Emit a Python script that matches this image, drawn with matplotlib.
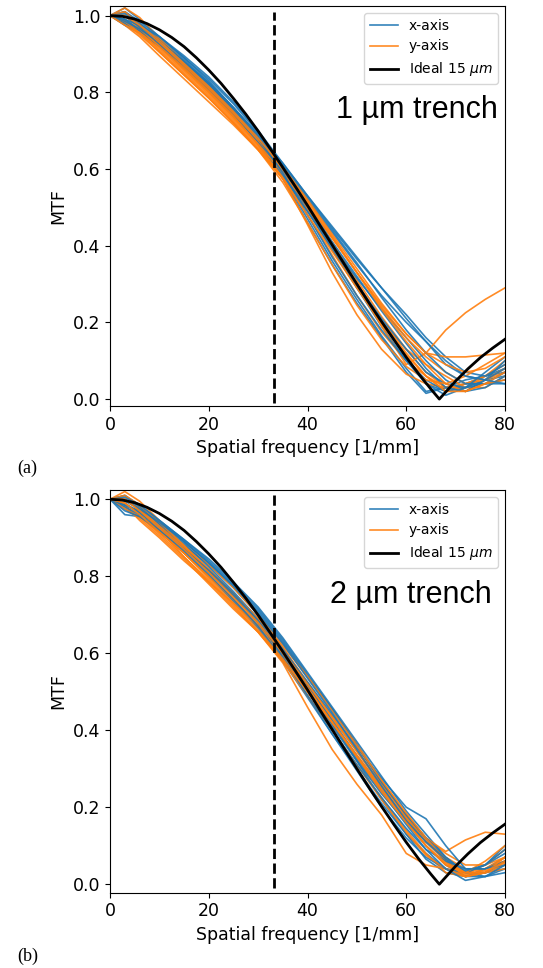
import numpy as np
import matplotlib
matplotlib.use('Agg')
import matplotlib.pyplot as plt

# spatial frequency samples [1/mm] for the measured curves
f = [0, 3, 6, 10, 15, 20, 25, 30, 35, 40, 45, 50, 55, 60, 64, 68, 72, 76, 80]

# ideal 15 um pixel
f_id = [0, 2.5, 5, 7.5, 10, 12.5, 15, 17.5, 20, 22.5, 25, 27.5, 30, 32.5, 35, 37.5, 40,
        42.5, 45, 47.5, 50, 52.5, 55, 57.5, 60, 62.5, 65, 66.7, 70, 72.5, 75, 77.5, 80]
mtf_id = [1.0, 0.998, 0.991, 0.979, 0.963, 0.943, 0.919, 0.890, 0.858, 0.823, 0.784, 0.743,
          0.699, 0.652, 0.604, 0.555, 0.505, 0.453, 0.402, 0.351, 0.300, 0.250, 0.202, 0.155,
          0.109, 0.066, 0.026, 0.0, 0.047, 0.079, 0.108, 0.133, 0.156]

f_nyq = 33.3

# (a) 1 um trench
a_x = [
    [1.0, 1.01, 0.975, 0.935, 0.875, 0.815, 0.75, 0.68, 0.60, 0.50, 0.40, 0.30, 0.20, 0.11, 0.04, 0.02, 0.04, 0.06, 0.08],
    [1.0, 0.985, 0.96, 0.925, 0.87, 0.81, 0.745, 0.67, 0.58, 0.47, 0.36, 0.26, 0.165, 0.08, 0.02, 0.03, 0.05, 0.06, 0.07],
    [1.0, 1.02, 0.99, 0.945, 0.89, 0.83, 0.76, 0.685, 0.605, 0.52, 0.435, 0.35, 0.27, 0.20, 0.15, 0.10, 0.06, 0.05, 0.06],
    [1.0, 0.975, 0.955, 0.92, 0.865, 0.805, 0.74, 0.665, 0.575, 0.46, 0.35, 0.25, 0.16, 0.07, 0.015, 0.03, 0.04, 0.04, 0.05],
    [1.0, 1.0, 0.98, 0.94, 0.885, 0.825, 0.76, 0.69, 0.615, 0.53, 0.445, 0.365, 0.29, 0.22, 0.16, 0.11, 0.07, 0.06, 0.09],
    [1.0, 0.99, 0.965, 0.93, 0.875, 0.815, 0.75, 0.675, 0.59, 0.49, 0.39, 0.29, 0.19, 0.10, 0.05, 0.02, 0.03, 0.05, 0.10],
    [1.0, 1.01, 0.985, 0.945, 0.89, 0.835, 0.77, 0.695, 0.60, 0.495, 0.395, 0.30, 0.21, 0.13, 0.07, 0.04, 0.03, 0.04, 0.04],
    [1.0, 0.98, 0.96, 0.925, 0.87, 0.81, 0.745, 0.67, 0.585, 0.49, 0.40, 0.315, 0.235, 0.16, 0.10, 0.05, 0.02, 0.03, 0.06],
    [1.0, 1.0, 0.97, 0.935, 0.88, 0.82, 0.755, 0.685, 0.60, 0.505, 0.41, 0.32, 0.23, 0.145, 0.08, 0.03, 0.02, 0.05, 0.08],
    [1.0, 0.985, 0.965, 0.93, 0.88, 0.825, 0.76, 0.69, 0.61, 0.525, 0.44, 0.355, 0.265, 0.18, 0.12, 0.07, 0.04, 0.04, 0.07],
    [1.0, 1.005, 0.975, 0.935, 0.88, 0.82, 0.755, 0.68, 0.59, 0.48, 0.37, 0.27, 0.18, 0.10, 0.04, 0.01, 0.03, 0.07, 0.11],
    [1.0, 0.99, 0.975, 0.945, 0.895, 0.84, 0.775, 0.70, 0.615, 0.53, 0.45, 0.37, 0.29, 0.21, 0.15, 0.09, 0.06, 0.05, 0.04],
]
a_y = [
    [1.0, 0.985, 0.96, 0.92, 0.86, 0.80, 0.735, 0.665, 0.59, 0.50, 0.40, 0.30, 0.205, 0.12, 0.06, 0.02, 0.03, 0.06, 0.09],
    [1.0, 1.01, 0.98, 0.93, 0.87, 0.81, 0.745, 0.675, 0.595, 0.505, 0.41, 0.31, 0.215, 0.13, 0.07, 0.03, 0.02, 0.05, 0.08],
    [1.0, 0.975, 0.945, 0.895, 0.835, 0.775, 0.715, 0.65, 0.575, 0.48, 0.375, 0.27, 0.175, 0.10, 0.06, 0.03, 0.03, 0.05, 0.07],
    [1.0, 1.0, 0.97, 0.925, 0.865, 0.805, 0.74, 0.665, 0.575, 0.455, 0.33, 0.22, 0.13, 0.065, 0.04, 0.03, 0.04, 0.06, 0.10],
    [1.0, 0.99, 0.96, 0.91, 0.85, 0.79, 0.725, 0.655, 0.58, 0.49, 0.39, 0.29, 0.20, 0.13, 0.09, 0.06, 0.03, 0.03, 0.06],
    [1.0, 1.02, 0.995, 0.94, 0.88, 0.82, 0.755, 0.685, 0.60, 0.51, 0.42, 0.33, 0.245, 0.17, 0.12, 0.11, 0.11, 0.115, 0.12],
    [1.0, 0.98, 0.95, 0.905, 0.845, 0.785, 0.72, 0.65, 0.575, 0.495, 0.40, 0.30, 0.19, 0.09, 0.12, 0.18, 0.225, 0.26, 0.29],
    [1.0, 1.0, 0.965, 0.92, 0.86, 0.80, 0.735, 0.665, 0.59, 0.505, 0.42, 0.33, 0.24, 0.16, 0.11, 0.07, 0.04, 0.05, 0.08],
    [1.0, 0.985, 0.955, 0.905, 0.845, 0.785, 0.72, 0.65, 0.565, 0.46, 0.35, 0.245, 0.155, 0.085, 0.05, 0.04, 0.06, 0.09, 0.12],
    [1.0, 1.01, 0.975, 0.93, 0.87, 0.81, 0.745, 0.675, 0.60, 0.515, 0.425, 0.33, 0.235, 0.15, 0.09, 0.04, 0.02, 0.04, 0.07],
    [1.0, 0.975, 0.955, 0.915, 0.855, 0.795, 0.73, 0.66, 0.575, 0.48, 0.385, 0.29, 0.195, 0.115, 0.06, 0.02, 0.02, 0.04, 0.05],
    [1.0, 1.0, 0.975, 0.935, 0.875, 0.815, 0.75, 0.68, 0.605, 0.52, 0.43, 0.34, 0.25, 0.17, 0.12, 0.09, 0.07, 0.08, 0.11],
]

# (b) 2 um trench
b_x = [
    [1.0, 0.99, 0.965, 0.93, 0.88, 0.83, 0.77, 0.70, 0.615, 0.52, 0.42, 0.32, 0.22, 0.13, 0.065, 0.03, 0.02, 0.03, 0.05],
    [1.0, 0.96, 0.955, 0.925, 0.87, 0.81, 0.75, 0.68, 0.595, 0.50, 0.41, 0.32, 0.235, 0.16, 0.10, 0.05, 0.02, 0.04, 0.07],
    [1.0, 1.01, 0.985, 0.945, 0.895, 0.845, 0.785, 0.72, 0.64, 0.55, 0.46, 0.37, 0.28, 0.19, 0.13, 0.07, 0.03, 0.03, 0.04],
    [1.0, 0.975, 0.955, 0.915, 0.86, 0.80, 0.735, 0.665, 0.58, 0.485, 0.39, 0.30, 0.21, 0.13, 0.08, 0.04, 0.02, 0.02, 0.03],
    [1.0, 1.0, 0.98, 0.94, 0.89, 0.835, 0.775, 0.71, 0.63, 0.54, 0.455, 0.36, 0.265, 0.175, 0.11, 0.06, 0.03, 0.05, 0.08],
    [1.0, 0.985, 0.97, 0.93, 0.875, 0.815, 0.755, 0.685, 0.605, 0.515, 0.425, 0.335, 0.25, 0.17, 0.12, 0.07, 0.03, 0.02, 0.04],
    [1.0, 0.995, 0.975, 0.935, 0.885, 0.825, 0.76, 0.69, 0.61, 0.525, 0.44, 0.355, 0.275, 0.20, 0.17, 0.10, 0.04, 0.04, 0.06],
    [1.0, 0.98, 0.96, 0.92, 0.865, 0.805, 0.74, 0.67, 0.585, 0.49, 0.39, 0.295, 0.20, 0.12, 0.07, 0.04, 0.03, 0.05, 0.10],
    [1.0, 1.005, 0.985, 0.945, 0.895, 0.84, 0.78, 0.715, 0.635, 0.545, 0.455, 0.36, 0.265, 0.18, 0.12, 0.06, 0.02, 0.03, 0.06],
    [1.0, 0.985, 0.965, 0.925, 0.87, 0.815, 0.75, 0.68, 0.60, 0.505, 0.415, 0.325, 0.24, 0.155, 0.09, 0.04, 0.01, 0.02, 0.05],
    [1.0, 0.97, 0.955, 0.92, 0.87, 0.815, 0.755, 0.685, 0.59, 0.49, 0.40, 0.31, 0.225, 0.145, 0.09, 0.06, 0.04, 0.04, 0.05],
    [1.0, 1.0, 0.975, 0.94, 0.89, 0.835, 0.775, 0.705, 0.625, 0.535, 0.445, 0.35, 0.255, 0.165, 0.11, 0.065, 0.035, 0.05, 0.09],
]
b_y = [
    [1.0, 1.01, 0.98, 0.935, 0.88, 0.82, 0.755, 0.69, 0.615, 0.525, 0.435, 0.345, 0.255, 0.165, 0.11, 0.07, 0.04, 0.04, 0.06],
    [1.0, 1.02, 0.995, 0.945, 0.89, 0.83, 0.77, 0.70, 0.625, 0.54, 0.455, 0.365, 0.27, 0.18, 0.12, 0.08, 0.05, 0.05, 0.07],
    [1.0, 0.985, 0.945, 0.90, 0.84, 0.785, 0.72, 0.655, 0.575, 0.46, 0.35, 0.26, 0.18, 0.08, 0.05, 0.04, 0.03, 0.04, 0.06],
    [1.0, 1.0, 0.97, 0.92, 0.86, 0.80, 0.74, 0.675, 0.60, 0.515, 0.43, 0.345, 0.26, 0.18, 0.12, 0.085, 0.115, 0.135, 0.13],
    [1.0, 0.98, 0.955, 0.91, 0.85, 0.79, 0.725, 0.655, 0.58, 0.49, 0.40, 0.31, 0.225, 0.14, 0.08, 0.03, 0.02, 0.04, 0.07],
    [1.0, 1.0, 0.975, 0.92, 0.85, 0.785, 0.73, 0.67, 0.60, 0.51, 0.42, 0.33, 0.245, 0.165, 0.10, 0.05, 0.02, 0.03, 0.05],
    [1.0, 0.99, 0.96, 0.915, 0.86, 0.80, 0.74, 0.67, 0.59, 0.50, 0.415, 0.33, 0.25, 0.17, 0.11, 0.06, 0.03, 0.05, 0.09],
    [1.0, 1.01, 0.985, 0.94, 0.88, 0.815, 0.75, 0.68, 0.605, 0.52, 0.435, 0.35, 0.26, 0.175, 0.115, 0.065, 0.03, 0.03, 0.04],
    [1.0, 0.975, 0.95, 0.905, 0.845, 0.78, 0.715, 0.655, 0.58, 0.49, 0.40, 0.31, 0.22, 0.135, 0.075, 0.04, 0.02, 0.03, 0.06],
    [1.0, 1.0, 0.975, 0.93, 0.875, 0.815, 0.755, 0.69, 0.62, 0.54, 0.45, 0.36, 0.27, 0.185, 0.12, 0.06, 0.02, 0.03, 0.07],
    [1.0, 0.99, 0.96, 0.915, 0.86, 0.795, 0.73, 0.66, 0.585, 0.50, 0.42, 0.335, 0.25, 0.165, 0.10, 0.05, 0.03, 0.06, 0.10],
    [1.0, 1.0, 0.97, 0.925, 0.87, 0.81, 0.745, 0.68, 0.60, 0.51, 0.42, 0.33, 0.24, 0.16, 0.10, 0.055, 0.025, 0.035, 0.055],
]

panels = [(a_x, a_y, '1 µm trench', '(a)'), (b_x, b_y, '2 µm trench', '(b)')]

clx = '#1f77b4'
cly = '#ff7f0e'
fs = 12.5  # tick/label font size

fig = plt.figure(figsize=(5.43, 9.68), dpi=100)

# axes boxes [left, bottom, width, height] in figure fraction
boxes = [[0.2026, 0.5806, 0.7274, 0.4132],
         [0.2026, 0.0778, 0.7274, 0.4160]]
lab_y = [0.511, 0.0075]
ylims = [(-0.018, 1.025), (-0.022, 1.024)]

for k in range(2):
    cx, cy, txt, lab = panels[k]
    ax = fig.add_axes(boxes[k])
    for n in range(len(cx)):
        ax.plot(f, cx[n], color=clx, linewidth=1.2, alpha=0.9,
                label='x-axis' if n == 0 else None)
        ax.plot(f, cy[n], color=cly, linewidth=1.2, alpha=0.9,
                label='y-axis' if n == 0 else None)
    ax.plot(f_id, mtf_id, color='k', linewidth=2, label=r'Ideal 15 $\mu m$')
    ax.plot([f_nyq, f_nyq], [-0.01, 1.01], color='k', linewidth=2, linestyle='--')

    ax.set_xlim(0, 80)
    ax.set_ylim(*ylims[k])
    ax.set_xticks([0, 20, 40, 60, 80])
    ax.set_yticks([0.0, 0.2, 0.4, 0.6, 0.8, 1.0])
    ax.tick_params(labelsize=fs)
    ax.set_xlabel('Spatial frequency [1/mm]', fontsize=fs)
    ax.set_ylabel('MTF', fontsize=fs)
    ax.legend(loc='upper right', fontsize=10)
    ax.text(0.982 if k == 0 else 0.967, 0.72, txt, transform=ax.transAxes,
            ha='right', va='baseline', fontsize=22, family='Liberation Sans')

    fig.text(0.031, lab_y[k], lab, fontsize=13, family='Liberation Serif',
             ha='left', va='baseline')

fig.savefig('out.png', dpi=100)
